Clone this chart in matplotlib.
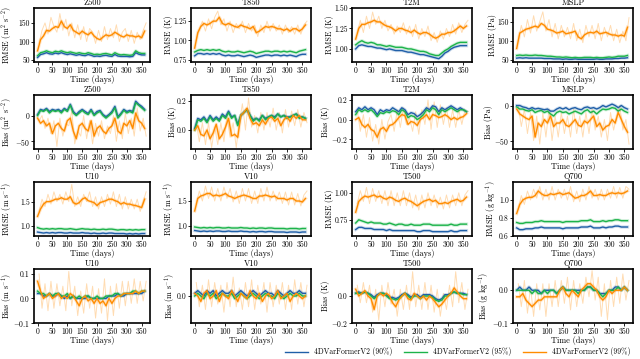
import numpy as np
import matplotlib
matplotlib.use("Agg")
import matplotlib.pyplot as plt

plt.rcParams['font.family'] = 'serif'
plt.rcParams['font.serif'] = ['cmr10']
plt.rcParams['mathtext.fontset'] = 'cm'
plt.rcParams['axes.formatter.use_mathtext'] = False
plt.rcParams['axes.unicode_minus'] = False
plt.rcParams['font.size'] = 6

days = np.arange(0, 361, 10)
raw_days = np.arange(5, 366, 10)

labels = ["4DVarFormerV2 (90%)", "4DVarFormerV2 (95%)", "4DVarFormerV2 (99%)"]
colors = ["#1f5fa8", "#1cb34a", "#ff8c00"]

# ---- row 1: RMSE ----
z500_rmse_b = [57, 65, 67, 70, 67, 66, 69, 67, 70, 67, 65, 67, 65, 63, 65, 63, 62, 65, 63, 60, 61, 60, 62, 63, 61, 60, 65, 61, 60, 60, 60, 59, 60, 70, 66, 64, 64]
z500_rmse_g = [62, 70, 72, 75, 72, 70, 74, 72, 75, 72, 70, 72, 70, 68, 70, 68, 67, 70, 68, 65, 66, 65, 67, 68, 66, 64, 70, 66, 64, 65, 64, 63, 64, 75, 70, 68, 68]
z500_rmse_o = [75, 105, 115, 130, 128, 135, 140, 138, 155, 140, 135, 145, 130, 125, 120, 128, 122, 118, 125, 115, 108, 105, 112, 118, 115, 118, 125, 120, 115, 112, 118, 115, 115, 112, 115, 110, 128]
z500_rmse_raw = [95, 130, 150, 120, 165, 140, 125, 175, 130, 160, 115, 150, 110, 145, 105, 140, 100, 135, 125, 95, 130, 100, 140, 105, 135, 110, 145, 100, 125, 135, 100, 130, 95, 125, 105, 130, 150]

t850_rmse_b = [0.80, 0.83, 0.83, 0.82, 0.83, 0.82, 0.83, 0.82, 0.83, 0.81, 0.80, 0.81, 0.80, 0.80, 0.81, 0.80, 0.79, 0.80, 0.81, 0.80, 0.78, 0.79, 0.80, 0.81, 0.81, 0.80, 0.81, 0.81, 0.80, 0.81, 0.80, 0.81, 0.80, 0.79, 0.81, 0.82, 0.82]
t850_rmse_g = [0.85, 0.87, 0.88, 0.87, 0.88, 0.87, 0.88, 0.87, 0.88, 0.86, 0.85, 0.86, 0.85, 0.85, 0.86, 0.85, 0.84, 0.85, 0.86, 0.85, 0.83, 0.84, 0.85, 0.86, 0.86, 0.85, 0.86, 0.86, 0.85, 0.86, 0.85, 0.86, 0.85, 0.84, 0.86, 0.87, 0.88]
t850_rmse_o = [0.90, 1.10, 1.18, 1.22, 1.20, 1.22, 1.25, 1.25, 1.30, 1.22, 1.20, 1.22, 1.20, 1.18, 1.17, 1.20, 1.18, 1.17, 1.15, 1.18, 1.10, 1.12, 1.15, 1.18, 1.17, 1.18, 1.17, 1.15, 1.15, 1.13, 1.15, 1.12, 1.15, 1.15, 1.12, 1.15, 1.20]
t850_rmse_raw = [1.00, 1.15, 1.25, 1.12, 1.28, 1.15, 1.30, 1.38, 1.20, 1.28, 1.12, 1.25, 1.10, 1.22, 1.15, 1.25, 1.10, 1.22, 1.12, 1.20, 1.05, 1.20, 1.10, 1.25, 1.12, 1.22, 1.12, 1.20, 1.08, 1.20, 1.10, 1.18, 1.08, 1.20, 1.08, 1.20, 1.25]

t2m_rmse_b = [1.00, 1.04, 1.05, 1.04, 1.03, 1.03, 1.02, 1.01, 1.01, 1.00, 0.99, 1.00, 0.99, 0.98, 0.98, 0.98, 0.97, 0.96, 0.96, 0.95, 0.94, 0.93, 0.93, 0.92, 0.91, 0.90, 0.89, 0.88, 0.91, 0.95, 0.97, 1.00, 1.02, 1.03, 1.04, 1.04, 1.04]
t2m_rmse_g = [1.05, 1.08, 1.10, 1.08, 1.07, 1.08, 1.07, 1.05, 1.05, 1.04, 1.03, 1.04, 1.03, 1.02, 1.02, 1.02, 1.01, 1.00, 1.00, 0.99, 0.98, 0.97, 0.97, 0.96, 0.94, 0.93, 0.92, 0.92, 0.95, 0.98, 1.00, 1.03, 1.05, 1.07, 1.08, 1.08, 1.08]
t2m_rmse_o = [1.12, 1.25, 1.30, 1.30, 1.32, 1.33, 1.35, 1.33, 1.33, 1.30, 1.28, 1.27, 1.25, 1.22, 1.25, 1.25, 1.23, 1.22, 1.20, 1.23, 1.20, 1.18, 1.20, 1.20, 1.18, 1.15, 1.13, 1.15, 1.18, 1.18, 1.20, 1.20, 1.22, 1.25, 1.28, 1.25, 1.28]
t2m_rmse_raw = [1.20, 1.35, 1.20, 1.40, 1.25, 1.45, 1.30, 1.40, 1.25, 1.35, 1.22, 1.30, 1.18, 1.28, 1.20, 1.32, 1.18, 1.28, 1.15, 1.30, 1.12, 1.25, 1.15, 1.28, 1.10, 1.20, 1.08, 1.22, 1.12, 1.25, 1.15, 1.30, 1.18, 1.32, 1.20, 1.30, 1.35]

mslp_rmse_b = [55, 56, 55, 56, 55, 55, 55, 55, 55, 54, 54, 54, 53, 53, 53, 52, 53, 52, 52, 53, 52, 52, 52, 52, 52, 52, 53, 52, 52, 53, 53, 53, 54, 54, 55, 55, 56]
mslp_rmse_g = [62, 63, 62, 63, 62, 62, 63, 62, 62, 61, 60, 60, 59, 58, 58, 57, 58, 57, 56, 57, 56, 56, 57, 57, 57, 56, 57, 56, 56, 57, 58, 57, 58, 60, 60, 60, 62]
mslp_rmse_o = [80, 120, 125, 130, 132, 135, 138, 135, 145, 140, 130, 128, 125, 120, 122, 125, 118, 120, 122, 125, 110, 105, 115, 120, 122, 120, 125, 118, 120, 122, 118, 115, 115, 112, 115, 112, 135]
mslp_rmse_raw = [100, 140, 110, 155, 120, 165, 125, 150, 175, 125, 155, 110, 145, 105, 140, 110, 135, 105, 145, 100, 130, 95, 140, 110, 140, 105, 145, 100, 135, 110, 140, 100, 130, 95, 125, 100, 160]

# ---- row 2: bias ----
z500_bias_b = [2, 12, 10, 14, 8, 12, 10, 12, 8, 14, 10, 22, 8, 2, 8, 12, 8, 4, 12, 2, 8, 10, 2, -2, 2, 8, 18, -2, 4, 12, 8, 10, 8, 28, 22, 18, 12]
z500_bias_g = [0, 10, 8, 12, 5, 10, 8, 10, 5, 12, 8, 20, 5, 0, 5, 10, 5, 2, 10, 0, 5, 8, 0, -5, 0, 5, 15, -5, 2, 10, 5, 8, 5, 25, 20, 15, 10]
z500_bias_o = [-5, -15, -10, -20, -15, -35, -20, -15, -25, -30, -10, -5, -30, -45, -20, -15, -25, -30, -10, -40, -25, -20, -30, -35, -25, -20, -5, -30, -35, -15, -20, -10, -25, 5, -10, -15, -25]
z500_bias_raw = [-10, 0, -25, -5, -35, -10, -60, -5, -40, -15, -20, 10, -55, -30, -40, 0, -45, -10, -55, -15, -40, -10, -45, -20, -35, 0, -50, -10, -45, 5, -35, -5, -40, 15, -30, -5, -40]

t850_bias_b = [0.01, 0.08, 0.07, 0.09, 0.06, 0.10, 0.07, 0.09, 0.07, 0.11, 0.09, 0.13, 0.09, 0.10, 0.04, 0.10, 0.12, 0.14, 0.10, 0.07, 0.08, 0.07, 0.10, 0.08, 0.09, 0.10, 0.09, 0.11, 0.09, 0.10, 0.09, 0.09, 0.10, 0.11, 0.09, 0.09, 0.08]
t850_bias_g = [0.00, 0.07, 0.06, 0.08, 0.05, 0.09, 0.06, 0.08, 0.06, 0.10, 0.08, 0.12, 0.08, 0.10, 0.03, 0.10, 0.12, 0.14, 0.10, 0.06, 0.08, 0.06, 0.10, 0.07, 0.09, 0.10, 0.08, 0.11, 0.09, 0.10, 0.08, 0.09, 0.10, 0.11, 0.08, 0.09, 0.08]
t850_bias_o = [0.00, 0.03, -0.03, -0.04, 0.00, -0.06, -0.02, 0.04, -0.06, -0.03, 0.02, 0.08, -0.04, -0.03, -0.05, 0.10, 0.12, 0.15, 0.08, 0.04, 0.05, 0.03, 0.07, 0.04, 0.08, 0.09, 0.06, 0.08, 0.03, 0.07, 0.09, 0.06, 0.10, 0.08, 0.10, 0.07, 0.07]
t850_bias_raw = [0.05, -0.08, 0.05, -0.10, 0.05, -0.12, 0.02, -0.10, 0.05, -0.08, 0.10, -0.05, 0.05, -0.12, 0.05, 0.18, 0.00, 0.22, 0.02, 0.10, -0.02, 0.12, 0.00, 0.12, 0.02, 0.15, 0.00, 0.12, -0.02, 0.14, 0.02, 0.13, 0.03, 0.14, 0.02, 0.12, 0.05]

t2m_bias_b = [0.08, 0.12, 0.10, 0.13, 0.10, 0.12, 0.10, 0.05, 0.10, 0.08, 0.10, 0.09, 0.12, 0.10, 0.08, 0.12, 0.10, 0.05, 0.07, 0.06, 0.03, 0.05, 0.08, 0.12, 0.10, 0.14, 0.13, 0.08, 0.12, 0.10, 0.12, 0.14, 0.12, 0.10, 0.12, 0.10, 0.08]
t2m_bias_g = [0.05, 0.10, 0.08, 0.10, 0.08, 0.10, 0.07, 0.03, 0.07, 0.06, 0.08, 0.07, 0.09, 0.08, 0.05, 0.10, 0.08, 0.02, 0.04, 0.03, 0.00, 0.02, 0.05, 0.10, 0.08, 0.12, 0.10, 0.05, 0.10, 0.08, 0.10, 0.12, 0.10, 0.08, 0.10, 0.10, 0.08]
t2m_bias_o = [0.00, 0.02, -0.05, -0.08, -0.05, -0.10, -0.12, -0.18, -0.10, -0.08, -0.12, -0.06, -0.05, -0.02, 0.02, 0.05, 0.04, -0.05, -0.02, -0.03, -0.06, 0.00, 0.02, 0.05, 0.00, 0.05, 0.04, 0.02, 0.03, 0.05, 0.03, 0.00, 0.02, 0.00, 0.02, 0.03, 0.06]
t2m_bias_raw = [0.10, -0.12, 0.05, -0.18, 0.02, -0.22, -0.05, -0.25, 0.00, -0.20, -0.02, 0.05, -0.12, 0.10, -0.08, 0.12, -0.05, 0.02, -0.12, 0.08, -0.15, 0.10, -0.05, 0.20, -0.10, 0.18, -0.08, 0.15, -0.05, 0.12, -0.08, 0.10, -0.08, 0.10, -0.05, 0.10, 0.08]

mslp_bias_b = [0, 0, -2, -3, -5, -3, -5, -4, -5, -6, -5, -8, -8, -5, -3, -5, -3, -6, -4, -3, -5, -6, -3, -2, -4, -3, -5, -3, 0, -2, 0, 2, 0, -3, 0, -3, -5]
mslp_bias_g = [-2, -5, -5, -7, -8, -6, -10, -8, -7, -10, -8, -12, -15, -10, -8, -10, -9, -12, -10, -8, -10, -12, -8, -6, -10, -8, -12, -8, -5, -6, -5, -3, -4, -8, -5, -8, -10]
mslp_bias_o = [-5, -12, -15, -18, -20, -15, -45, -25, -30, -20, -25, -15, -30, -25, -25, -20, -28, -30, -25, -20, -28, -30, -22, -25, -20, -15, -30, -25, -35, -30, -28, -20, -25, -10, -20, -30, -38]
mslp_bias_raw = [0, -30, -5, -40, -10, -50, -15, -55, -10, -45, -5, -50, -15, -45, -10, -40, -15, -45, -5, -40, -15, -45, -10, -40, -5, -35, -15, -45, -20, -50, -10, -35, -15, 0, -35, -20, -55]

# ---- row 3: RMSE ----
u10_rmse_b = [0.88, 0.87, 0.86, 0.87, 0.86, 0.87, 0.86, 0.87, 0.87, 0.86, 0.86, 0.87, 0.86, 0.86, 0.86, 0.87, 0.86, 0.86, 0.85, 0.86, 0.85, 0.85, 0.86, 0.85, 0.86, 0.86, 0.85, 0.85, 0.85, 0.85, 0.84, 0.85, 0.84, 0.85, 0.84, 0.85, 0.85]
u10_rmse_g = [0.97, 0.95, 0.94, 0.95, 0.94, 0.95, 0.94, 0.95, 0.95, 0.94, 0.94, 0.95, 0.94, 0.93, 0.94, 0.95, 0.94, 0.94, 0.93, 0.94, 0.93, 0.93, 0.94, 0.93, 0.94, 0.94, 0.93, 0.92, 0.93, 0.93, 0.92, 0.93, 0.92, 0.93, 0.92, 0.93, 0.93]
u10_rmse_o = [1.20, 1.35, 1.45, 1.50, 1.50, 1.52, 1.55, 1.55, 1.58, 1.55, 1.55, 1.60, 1.48, 1.45, 1.48, 1.55, 1.58, 1.52, 1.50, 1.48, 1.42, 1.48, 1.50, 1.52, 1.55, 1.55, 1.52, 1.50, 1.45, 1.48, 1.45, 1.45, 1.43, 1.42, 1.40, 1.38, 1.55]
u10_rmse_raw = [1.30, 1.55, 1.40, 1.65, 1.45, 1.70, 1.50, 1.65, 1.45, 1.70, 1.50, 1.85, 1.40, 1.60, 1.40, 1.65, 1.50, 1.70, 1.40, 1.60, 1.35, 1.60, 1.40, 1.65, 1.45, 1.70, 1.40, 1.65, 1.35, 1.60, 1.35, 1.55, 1.35, 1.55, 1.30, 1.50, 1.70]

v10_rmse_b = [0.91, 0.90, 0.89, 0.90, 0.89, 0.90, 0.89, 0.90, 0.90, 0.89, 0.89, 0.90, 0.89, 0.89, 0.89, 0.90, 0.89, 0.89, 0.88, 0.89, 0.88, 0.89, 0.89, 0.88, 0.89, 0.89, 0.88, 0.88, 0.88, 0.88, 0.87, 0.88, 0.88, 0.88, 0.87, 0.88, 0.88]
v10_rmse_g = [0.98, 0.97, 0.96, 0.97, 0.96, 0.97, 0.96, 0.97, 0.97, 0.96, 0.96, 0.97, 0.96, 0.96, 0.96, 0.97, 0.96, 0.96, 0.95, 0.96, 0.95, 0.96, 0.96, 0.95, 0.96, 0.96, 0.95, 0.95, 0.95, 0.95, 0.94, 0.95, 0.95, 0.95, 0.94, 0.95, 0.95]
v10_rmse_o = [1.30, 1.55, 1.60, 1.62, 1.65, 1.65, 1.60, 1.62, 1.60, 1.62, 1.65, 1.60, 1.58, 1.55, 1.58, 1.60, 1.62, 1.60, 1.58, 1.55, 1.55, 1.60, 1.60, 1.62, 1.60, 1.58, 1.60, 1.55, 1.55, 1.55, 1.52, 1.55, 1.55, 1.50, 1.50, 1.48, 1.55]
v10_rmse_raw = [1.45, 1.70, 1.50, 1.80, 1.55, 1.78, 1.50, 1.75, 1.50, 1.78, 1.55, 1.75, 1.48, 1.70, 1.45, 1.75, 1.50, 1.75, 1.45, 1.70, 1.45, 1.75, 1.50, 1.78, 1.50, 1.70, 1.50, 1.68, 1.45, 1.68, 1.42, 1.68, 1.42, 1.65, 1.40, 1.62, 1.70]

t500_rmse_b = [0.66, 0.68, 0.68, 0.67, 0.67, 0.67, 0.66, 0.66, 0.66, 0.66, 0.65, 0.66, 0.65, 0.65, 0.65, 0.65, 0.65, 0.65, 0.65, 0.65, 0.64, 0.64, 0.65, 0.65, 0.65, 0.64, 0.64, 0.64, 0.64, 0.64, 0.64, 0.65, 0.64, 0.64, 0.65, 0.65, 0.65]
t500_rmse_g = [0.72, 0.75, 0.74, 0.73, 0.72, 0.73, 0.72, 0.72, 0.72, 0.71, 0.71, 0.72, 0.71, 0.70, 0.71, 0.71, 0.70, 0.70, 0.71, 0.70, 0.70, 0.70, 0.71, 0.71, 0.71, 0.70, 0.70, 0.70, 0.70, 0.70, 0.70, 0.71, 0.70, 0.70, 0.71, 0.71, 0.71]
t500_rmse_o = [0.82, 0.92, 0.95, 0.97, 0.96, 0.97, 0.98, 0.96, 0.97, 0.95, 0.94, 0.96, 0.95, 0.93, 0.92, 0.94, 0.95, 0.93, 0.92, 0.90, 0.88, 0.90, 0.92, 0.93, 0.94, 0.92, 0.93, 0.90, 0.90, 0.91, 0.90, 0.92, 0.93, 0.94, 0.92, 0.93, 0.96]
t500_rmse_raw = [0.90, 1.02, 0.92, 1.05, 0.90, 1.04, 0.92, 1.02, 0.90, 1.02, 0.88, 1.02, 0.88, 1.00, 0.88, 1.02, 0.88, 1.00, 0.86, 0.98, 0.84, 0.98, 0.86, 1.00, 0.88, 0.98, 0.86, 0.96, 0.85, 0.98, 0.86, 0.98, 0.88, 1.00, 0.88, 0.98, 1.02]

q700_rmse_b = [0.69, 0.67, 0.67, 0.68, 0.68, 0.68, 0.69, 0.69, 0.70, 0.69, 0.69, 0.69, 0.69, 0.69, 0.69, 0.68, 0.69, 0.69, 0.69, 0.69, 0.69, 0.70, 0.70, 0.70, 0.71, 0.69, 0.69, 0.69, 0.70, 0.69, 0.70, 0.70, 0.71, 0.71, 0.70, 0.70, 0.70]
q700_rmse_g = [0.75, 0.74, 0.74, 0.75, 0.75, 0.75, 0.76, 0.76, 0.77, 0.76, 0.76, 0.76, 0.76, 0.76, 0.76, 0.75, 0.76, 0.76, 0.76, 0.76, 0.76, 0.77, 0.77, 0.77, 0.78, 0.76, 0.76, 0.76, 0.77, 0.76, 0.77, 0.77, 0.78, 0.78, 0.77, 0.77, 0.77]
q700_rmse_o = [0.85, 0.95, 1.00, 1.02, 1.03, 1.03, 1.05, 1.10, 1.07, 1.05, 1.05, 1.07, 1.06, 1.07, 1.08, 1.06, 1.07, 1.08, 1.05, 1.02, 1.03, 1.05, 1.05, 1.07, 1.10, 1.05, 1.05, 1.06, 1.05, 1.05, 1.07, 1.08, 1.07, 1.08, 1.07, 1.08, 1.10]
q700_rmse_raw = [0.90, 1.05, 0.95, 1.10, 1.00, 1.12, 1.02, 1.15, 1.00, 1.12, 1.00, 1.15, 1.00, 1.12, 1.02, 1.12, 1.00, 1.15, 0.98, 1.10, 0.98, 1.12, 1.00, 1.15, 1.02, 1.12, 1.00, 1.12, 1.00, 1.12, 1.02, 1.15, 1.02, 1.14, 1.02, 1.15, 1.12]

# ---- row 4: bias ----
u10_bias_b = [0.02, 0.02, 0.01, 0.01, 0.02, 0.01, 0.01, 0.02, 0.01, 0.00, 0.01, 0.00, 0.01, 0.00, 0.00, 0.00, 0.00, 0.01, 0.00, 0.00, 0.00, 0.00, 0.00, 0.00, 0.01, 0.01, 0.01, 0.02, 0.01, 0.01, 0.02, 0.02, 0.02, 0.02, 0.02, 0.02, 0.03]
u10_bias_g = [0.03, 0.02, 0.02, 0.01, 0.02, 0.01, 0.02, 0.02, 0.01, 0.01, 0.02, 0.00, 0.01, 0.00, 0.01, 0.00, 0.01, 0.01, 0.00, 0.00, 0.01, 0.00, 0.00, 0.01, 0.01, 0.01, 0.02, 0.02, 0.01, 0.02, 0.02, 0.02, 0.03, 0.03, 0.02, 0.03, 0.03]
u10_bias_o = [0.07, 0.03, 0.00, 0.01, 0.02, 0.00, 0.01, 0.02, 0.00, 0.01, 0.00, 0.02, 0.01, -0.01, -0.03, 0.00, 0.01, -0.01, 0.00, -0.02, 0.00, -0.02, -0.01, -0.03, 0.00, -0.02, 0.00, 0.01, 0.01, 0.02, 0.02, 0.02, 0.02, 0.03, 0.02, 0.03, 0.03]
u10_bias_raw = [0.10, -0.04, 0.06, -0.05, 0.07, -0.04, 0.06, -0.03, 0.05, -0.05, 0.11, -0.03, 0.05, -0.07, 0.03, -0.06, 0.06, -0.04, 0.05, -0.08, 0.04, -0.06, 0.08, -0.09, 0.05, -0.07, 0.06, -0.04, 0.07, -0.03, 0.07, -0.02, 0.08, -0.02, 0.07, -0.01, 0.07]

v10_bias_b = [0.01, 0.02, 0.01, 0.00, 0.02, 0.01, 0.02, 0.00, 0.01, 0.02, 0.01, 0.01, 0.02, 0.00, 0.01, 0.02, 0.01, 0.00, 0.01, 0.02, 0.01, 0.00, 0.01, 0.02, 0.01, 0.01, 0.00, 0.02, 0.01, 0.00, 0.01, 0.02, 0.01, 0.01, 0.02, 0.01, 0.01]
v10_bias_g = [0.00, 0.01, 0.00, -0.01, 0.01, 0.00, 0.01, -0.01, 0.00, 0.01, 0.00, 0.00, 0.01, -0.01, 0.00, 0.01, 0.00, -0.01, 0.00, 0.01, 0.00, -0.01, 0.00, 0.01, 0.00, 0.00, -0.01, 0.01, 0.00, -0.01, 0.00, 0.01, 0.00, 0.00, 0.01, 0.00, 0.00]
v10_bias_o = [0.01, 0.00, -0.02, 0.01, 0.02, -0.01, 0.00, 0.02, -0.02, 0.01, 0.00, -0.01, 0.02, 0.00, -0.02, 0.01, 0.00, -0.01, 0.02, 0.00, -0.01, 0.01, -0.02, 0.00, 0.01, -0.01, 0.00, 0.02, -0.01, 0.00, 0.01, -0.02, 0.00, 0.01, 0.00, -0.01, 0.00]
v10_bias_raw = [0.05, -0.04, 0.04, -0.05, 0.06, -0.04, 0.05, -0.03, 0.04, -0.06, 0.05, -0.04, 0.07, -0.04, 0.03, -0.05, 0.05, -0.04, 0.06, -0.05, 0.04, -0.03, 0.05, -0.06, 0.05, -0.04, 0.04, -0.03, 0.05, -0.05, 0.04, -0.05, 0.06, -0.03, 0.05, -0.04, 0.04]

t500_bias_b = [0.02, 0.03, 0.02, 0.03, 0.02, 0.01, -0.01, 0.01, 0.02, 0.02, 0.01, -0.01, -0.01, -0.02, -0.01, 0.01, 0.02, 0.01, -0.01, 0.01, 0.01, -0.01, 0.01, 0.01, 0.01, 0.00, -0.02, -0.03, -0.02, 0.01, 0.01, 0.02, 0.03, 0.02, 0.02, 0.02, 0.01]
t500_bias_g = [0.02, 0.02, 0.02, 0.03, 0.02, 0.00, -0.02, 0.00, 0.02, 0.02, 0.00, -0.02, -0.02, -0.03, -0.02, 0.00, 0.02, 0.00, -0.02, 0.00, 0.00, -0.02, 0.00, 0.00, 0.00, -0.01, -0.03, -0.04, -0.03, 0.00, 0.00, 0.02, 0.03, 0.02, 0.02, 0.01, 0.01]
t500_bias_o = [0.05, 0.00, 0.02, 0.04, 0.00, -0.02, -0.10, 0.00, 0.02, 0.00, 0.02, 0.00, -0.05, -0.08, -0.03, 0.00, 0.02, -0.02, -0.03, 0.02, 0.00, -0.02, 0.00, -0.03, 0.00, -0.02, -0.05, -0.08, -0.06, -0.03, 0.00, 0.02, 0.06, 0.03, 0.00, -0.02, -0.02]
t500_bias_raw = [0.08, -0.05, 0.10, -0.05, 0.08, -0.12, 0.05, -0.18, 0.08, -0.08, 0.10, -0.06, 0.05, -0.15, 0.05, -0.10, 0.08, -0.10, 0.18, -0.08, 0.08, -0.10, 0.10, -0.10, 0.08, -0.12, 0.05, -0.15, 0.02, -0.10, 0.08, -0.08, 0.18, -0.05, 0.10, -0.10, 0.05]

q700_bias_b = [0.00, 0.01, 0.00, 0.00, 0.01, 0.00, 0.00, 0.00, -0.01, 0.00, 0.00, 0.00, 0.00, -0.01, 0.00, 0.01, 0.00, 0.00, 0.00, 0.00, 0.00, 0.00, 0.00, 0.01, 0.01, 0.00, 0.00, -0.01, -0.01, -0.01, 0.00, 0.00, 0.01, 0.01, 0.00, 0.01, 0.00]
q700_bias_g = [0.00, 0.00, 0.00, 0.00, 0.00, -0.01, 0.00, -0.01, -0.01, 0.00, -0.01, 0.00, 0.00, -0.01, 0.00, 0.01, 0.00, 0.00, 0.00, 0.00, -0.01, 0.00, 0.00, 0.01, 0.01, 0.00, 0.00, -0.01, -0.02, -0.01, 0.00, 0.00, 0.00, 0.01, 0.00, 0.01, 0.00]
q700_bias_o = [-0.02, -0.02, -0.01, -0.03, -0.04, -0.05, -0.04, -0.03, -0.03, -0.02, -0.02, -0.02, -0.02, -0.02, 0.00, 0.01, -0.01, -0.02, 0.00, -0.01, -0.02, 0.00, 0.01, 0.02, 0.02, 0.01, 0.00, -0.02, -0.03, -0.02, 0.00, -0.01, 0.00, 0.00, 0.00, 0.01, 0.00]
q700_bias_raw = [0.02, -0.05, 0.03, -0.07, 0.01, -0.08, 0.02, -0.06, 0.02, -0.08, 0.02, -0.05, 0.03, -0.05, 0.03, -0.04, 0.04, -0.06, 0.03, -0.05, 0.02, -0.04, 0.04, -0.02, 0.06, -0.03, 0.04, -0.08, 0.02, -0.09, 0.03, -0.05, 0.04, -0.04, 0.05, -0.03, 0.03]

# title, ylabel, ylim, yticks, tick decimals, series
panels = [
    ("Z500", r"RMSE (m$^2$ s$^{-2}$)", (45, 190), [50, 100, 150], 0, (z500_rmse_b, z500_rmse_g, z500_rmse_o, z500_rmse_raw)),
    ("T850", "RMSE (K)", (0.72, 1.42), [0.75, 1.00, 1.25], 2, (t850_rmse_b, t850_rmse_g, t850_rmse_o, t850_rmse_raw)),
    ("T2M", "RMSE (K)", (0.84, 1.50), [1.00, 1.25, 1.50], 2, (t2m_rmse_b, t2m_rmse_g, t2m_rmse_o, t2m_rmse_raw)),
    ("MSLP", "RMSE (Pa)", (45, 185), [50, 100, 150], 0, (mslp_rmse_b, mslp_rmse_g, mslp_rmse_o, mslp_rmse_raw)),
    ("Z500", r"Bias (m$^2$ s$^{-2}$)", (-65, 40), [-50, 0], 0, (z500_bias_b, z500_bias_g, z500_bias_o, z500_bias_raw)),
    ("T850", "Bias (K)", (-0.13, 0.24), [0.0, 0.2], 1, (t850_bias_b, t850_bias_g, t850_bias_o, t850_bias_raw)),
    ("T2M", "Bias (K)", (-0.3, 0.25), [-0.2, 0.0, 0.2], 1, (t2m_bias_b, t2m_bias_g, t2m_bias_o, t2m_bias_raw)),
    ("MSLP", "Bias (Pa)", (-62, 15), [-50, 0], 0, (mslp_bias_b, mslp_bias_g, mslp_bias_o, mslp_bias_raw)),
    ("U10", r"RMSE (m s$^{-1}$)", (0.8, 1.9), [1.0, 1.5], 1, (u10_rmse_b, u10_rmse_g, u10_rmse_o, u10_rmse_raw)),
    ("V10", r"RMSE (m s$^{-1}$)", (0.8, 1.88), [1.0, 1.5], 1, (v10_rmse_b, v10_rmse_g, v10_rmse_o, v10_rmse_raw)),
    ("T500", "RMSE (K)", (0.6, 1.1), [0.75, 1.00], 2, (t500_rmse_b, t500_rmse_g, t500_rmse_o, t500_rmse_raw)),
    ("Q700", r"RMSE (g kg$^{-1}$)", (0.6, 1.2), [0.6, 0.8, 1.0], 1, (q700_rmse_b, q700_rmse_g, q700_rmse_o, q700_rmse_raw)),
    ("U10", r"Bias (m s$^{-1}$)", (-0.1, 0.12), [-0.1, 0.0, 0.1], 1, (u10_bias_b, u10_bias_g, u10_bias_o, u10_bias_raw)),
    ("V10", r"Bias (m s$^{-1}$)", (-0.1, 0.1), [0.0], 1, (v10_bias_b, v10_bias_g, v10_bias_o, v10_bias_raw)),
    ("T500", "Bias (K)", (-0.2, 0.2), [-0.2, 0.0], 1, (t500_bias_b, t500_bias_g, t500_bias_o, t500_bias_raw)),
    ("Q700", r"Bias (g kg$^{-1}$)", (-0.1, 0.065), [-0.1, 0.0], 1, (q700_bias_b, q700_bias_g, q700_bias_o, q700_bias_raw)),
]


def tick_text(v, nd):
    s = f"{abs(v):.{nd}f}"
    return "$-$" + s if v < 0 else s


W, H = 640, 359
col_left = [34, 191, 352, 513]
col_right = [150, 311, 472, 633]
row_top = [8, 95, 182, 269]
ax_h = 54

fig = plt.figure(figsize=(6.4, 3.59), dpi=100)

handles = []
for i, (title, ylabel, ylim, yticks, nd, series) in enumerate(panels):
    r, c = divmod(i, 4)
    w = col_right[c] - col_left[c]
    ax = fig.add_axes([col_left[c] / W, 1 - (row_top[r] + ax_h) / H, w / W, ax_h / H])
    b, g, o, raw = series
    ax.plot(raw_days, raw, color=colors[2], lw=0.7, alpha=0.3)
    for vals, col in zip((b, g, o), colors):
        ax.plot(days, vals, color=col, lw=2.4, alpha=0.2)
    lines = []
    for vals, col, lab in zip((b, g, o), colors, labels):
        ln, = ax.plot(days, vals, color=col, lw=1.0, label=lab)
        lines.append(ln)
    handles = lines
    ax.set_title(title, fontsize=6, pad=2)
    ax.set_ylabel(ylabel, fontsize=5.8, labelpad=0.5)
    if c == 0:
        ax.yaxis.set_label_coords((14 - col_left[0]) / w, 0.5)
    ax.set_xlabel("Time (days)", fontsize=6, va="top")
    ax.xaxis.set_label_coords(0.5, -0.24)
    ax.set_xlim(-12, 378)
    ax.set_xticks(np.arange(0, 351, 50))
    ax.set_ylim(*ylim)
    ax.set_yticks(yticks, [tick_text(v, nd) for v in yticks])
    ax.tick_params(labelsize=5.5, length=2, width=0.6, pad=1)
    for s in ax.spines.values():
        s.set_linewidth(1.2)
        s.set_color("black")

fig.legend(handles, labels, loc="lower center", bbox_to_anchor=(0.715, -0.012), ncol=3,
           frameon=False, fontsize=5.5, handlelength=3, columnspacing=1.5)

fig.savefig("out.png", dpi=100)
